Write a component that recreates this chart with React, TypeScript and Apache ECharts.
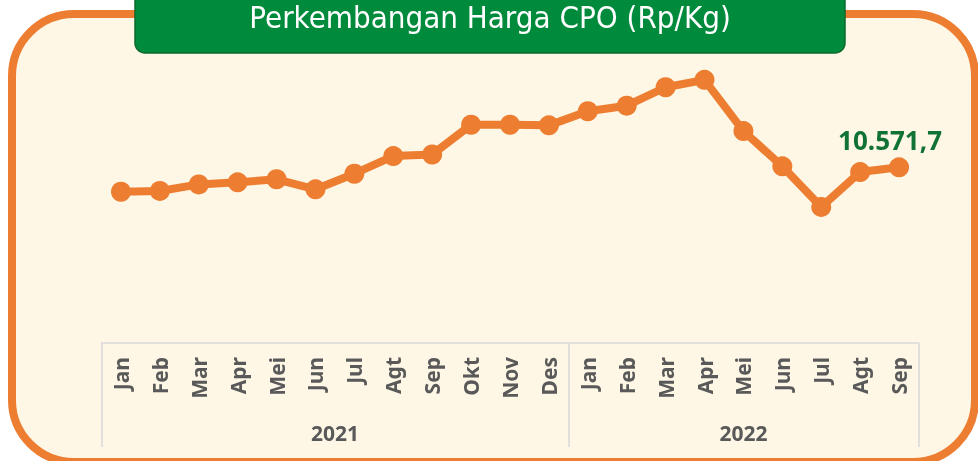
import React, { useEffect, useRef } from "react";
import * as echarts from "echarts";

const title = "Perkembangan Harga CPO (Rp/Kg)";
const months = [
  "Jan", "Feb", "Mar", "Apr", "Mei", "Jun", "Jul", "Agt", "Sep", "Okt", "Nov", "Des",
  "Jan", "Feb", "Mar", "Apr", "Mei", "Jun", "Jul", "Agt", "Sep",
];
const years = ["2021", "2022"];
const monthsPerYear = [12, 9];
const prices = [
  9380, 9420, 9740, 9840, 9990, 9500, 10260, 11120, 11200, 12650, 12650, 12620,
  13310, 13580, 14480, 14840, 12340, 10620, 8640, 10340, 10571.7,
];

function formatID(v: number): string {
  const fixed = v.toFixed(1);
  const [intPart, dec] = fixed.split(".");
  const withDots = intPart.replace(/\B(?=(\d{3})+(?!\d))/g, ".");
  return withDots + "," + dec;
}

export default function App() {
  const ref = useRef<HTMLDivElement>(null);
  useEffect(() => {
    if (!ref.current) return;
    const chart = echarts.init(ref.current, null, { renderer: "svg" });
    const orange = "#ED7D31";
    const yearCenters: number[] = [];
    let start = 0;
    monthsPerYear.forEach((n) => {
      yearCenters.push(start + (n - 1) / 2);
      start += n;
    });
    const lastIdx = prices.length - 1;
    const data = prices.map((v, i) =>
      i === lastIdx
        ? {
            value: v,
            label: {
              show: true,
              position: "top",
              distance: 4,
              offset: [-9, 0],
              formatter: () => formatID(v),
              fontFamily: "Noto Sans",
              fontWeight: "bold",
              fontSize: 26,
              color: "#117236",
            },
          }
        : v
    );
    chart.setOption({
      animation: false,
      graphic: [
        {
          type: "rect",
          z: -10,
          shape: { x: 12, y: 14, width: 963, height: 448, r: 62 },
          style: { fill: "#FEF7E5", stroke: orange, lineWidth: 8 },
        },
        {
          type: "rect",
          z: -9,
          shape: { x: 135, y: -20, width: 710, height: 73, r: 10 },
          style: { fill: "#008A3B", stroke: "#0B6A2E", lineWidth: 1.5 },
        },
        {
          type: "text",
          z: -8,
          x: 490,
          y: 17,
          style: {
            text: title,
            fill: "#FFFFFF",
            fontFamily: "DejaVu Sans Condensed, DejaVu Sans, sans-serif",
            fontSize: 31,
            align: "center",
            verticalAlign: "middle",
          },
        },
      ],
      grid: { left: 101.5, right: 59.5, top: 56.1, bottom: 118 },
      xAxis: [
        {
          type: "category",
          data: months,
          boundaryGap: true,
          axisLine: { show: true, lineStyle: { color: "#D9D9D9", width: 1.5 } },
          axisTick: {
            show: true,
            interval: (i: number) => i === 0 || i === 12,
            length: 104,
            lineStyle: { color: "#D9D9D9", width: 1.5 },
          },
          axisLabel: {
            interval: 0,
            rotate: 90,
            margin: 14,
            fontFamily: "Noto Sans",
            fontWeight: "bold",
            fontSize: 21,
            color: "#595959",
          },
          splitLine: { show: false },
        },
        {
          type: "value",
          position: "bottom",
          min: -0.5,
          max: months.length - 0.5,
          axisLine: { show: false },
          axisTick: { show: false },
          splitLine: { show: false },
          axisLabel: {
            customValues: yearCenters,
            margin: 79,
            formatter: (v: number) => {
              const idx = yearCenters.findIndex((c) => Math.abs(c - v) < 1e-6);
              return idx >= 0 ? years[idx] : "";
            },
            fontFamily: "Noto Sans",
            fontWeight: "bold",
            fontSize: 21,
            color: "#595959",
          },
        },
      ],
      yAxis: {
        type: "value",
        min: 2000,
        max: 16000,
        show: false,
        splitLine: { show: false },
      },
      series: [
        {
          type: "line",
          data,
          xAxisIndex: 0,
          symbol: "circle",
          symbolSize: 20,
          lineStyle: { color: orange, width: 8 },
          itemStyle: { color: orange },
          label: { show: false },
        },
      ],
    });
    return () => chart.dispose();
  }, []);
  return (
    <div
      ref={ref}
      style={{ position: "fixed", left: 0, top: 0, width: 978, height: 461 }}
    />
  );
}
